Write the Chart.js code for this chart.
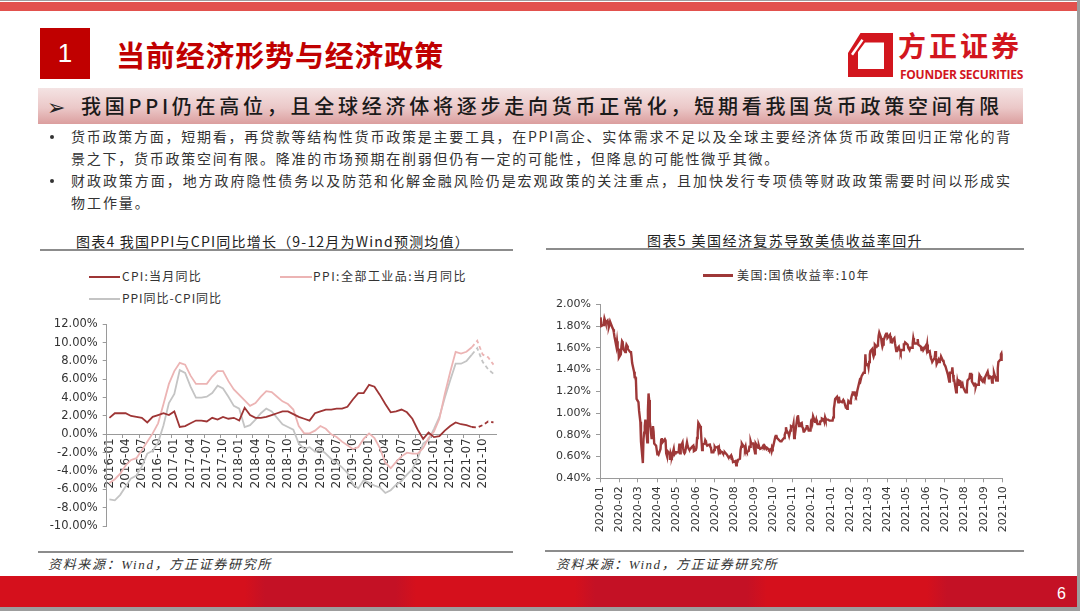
<!DOCTYPE html>
<html><head><meta charset="utf-8">
<script src="https://cdn.jsdelivr.net/npm/chart.js@4.4.0/dist/chart.umd.min.js"></script>
<style>
html,body{margin:0;padding:0;}
body{width:1080px;height:611px;background:#9d9d9d;position:relative;overflow:hidden;font-family:"Noto Sans CJK SC","Noto Sans",sans-serif;}
#slide{position:absolute;left:0;top:1px;width:1077px;height:606px;background:#fff;}
#topband{position:absolute;left:0;top:2px;width:1077px;height:9px;background:#E2514D;}
#numbox{position:absolute;left:40px;top:28px;width:50px;height:51px;background:#C00000;color:#fff;font:26px "Liberation Sans",Arial,sans-serif;line-height:51px;text-align:center;}
.t{position:absolute;white-space:nowrap;line-height:1;}
#mainTitle{left:116px;top:40px;font-size:29px;font-weight:700;color:#C00000;}
#logoCn{left:898px;top:31px;font-size:28px;font-weight:700;color:#D2161E;}
#logoEn{left:900px;top:65.5px;font:700 12px "Open Sans",sans-serif;color:#D2161E;}
#logo{position:absolute;left:848px;top:33px;}
#band{position:absolute;left:38px;top:88px;width:985px;height:36px;background:linear-gradient(180deg,#F4E3E3 0%,#EBC8C8 55%,#DB9E9E 100%);}
#arrow{left:47px;top:95px;font:22px "DejaVu Sans",sans-serif;color:#222;}
#sub{left:81px;top:95.5px;font-size:20px;font-weight:500;color:#1a1a1a;}
.dot{position:absolute;width:4px;height:4px;border-radius:2px;background:#333;}
.bl{font-size:14px;color:#333;left:71px;}
.ct{font-size:14px;color:#222;}
.hl{position:absolute;height:2px;background:#8c8c8c;}
.lg{font-size:12px;color:#333;}
.ls{position:absolute;}
.src{font:italic 13px "Liberation Serif","Noto Sans CJK SC",serif;color:#333;}
#bottom{position:absolute;left:0;top:576px;width:1077px;height:31px;background:linear-gradient(90deg,#D5101C 0px,#D5101C 245px,#C41125 265px,#C41125 396px,#D5101C 416px,#D5101C 575px,#C41125 595px,#C41125 747px,#D5101C 767px,#D5101C 927px,#C41125 947px,#C41125 1077px);}
#pnum{left:1057px;top:584.5px;font:16px "Liberation Sans",Arial,sans-serif;color:#fff;}
canvas{position:absolute;}
</style></head>
<body>
<div id="slide"></div>
<div id="topband"></div>
<div id="numbox">1</div>
<div class="t" id="mainTitle">当前经济形势与经济政策</div>
<svg id="logo" width="46" height="45" viewBox="0 0 46 45">
  <path fill="#D2161E" fill-rule="evenodd" d="M12.5,0 H45 V44 H0 V20 Z M17,9.5 H36 V36 H10 V19 Z"/>
  <path fill="#fff" d="M3,21 L13.5,6 L15.5,7.5 L5,22.5 Z"/>
</svg>
<div class="t" id="logoCn">方正证券</div>
<div class="t" id="logoEn">FOUNDER SECURITIES</div>
<div id="band"></div>
<div class="t" id="arrow">➢</div>
<div class="t" id="sub">我国PPI仍在高位，且全球经济体将逐步走向货币正常化，短期看我国货币政策空间有限</div>

<div class="dot" style="left:50px;top:134.5px"></div>
<div class="dot" style="left:50px;top:179px"></div>
<div class="t bl" id="b1" style="top:128.8px">货币政策方面，短期看，再贷款等结构性货币政策是主要工具，在PPI高企、实体需求不足以及全球主要经济体货币政策回归正常化的背</div>
<div class="t bl" id="b2" style="top:150.8px">景之下，货币政策空间有限。降准的市场预期在削弱但仍有一定的可能性，但降息的可能性微乎其微。</div>
<div class="t bl" id="b3" style="top:173.3px">财政政策方面，地方政府隐性债务以及防范和化解金融风险仍是宏观政策的关注重点，且加快发行专项债等财政政策需要时间以形成实</div>
<div class="t bl" id="b4" style="top:194.8px">物工作量。</div>

<div class="t ct" id="t1" style="left:76px;top:233.8px">图表4 我国PPI与CPI同比增长（9-12月为Wind预测均值）</div>
<div class="t ct" id="t2" style="left:647px;top:232.8px">图表5 美国经济复苏导致美债收益率回升</div>
<div class="hl" style="left:40px;top:249px;width:473px"></div>
<div class="hl" style="left:546px;top:248px;width:478px"></div>

<div class="ls" style="left:89px;top:276px;width:31px;height:1.6px;background:#9E3535"></div>
<div class="t lg" id="lg1" style="left:122px;top:269.9px">CPI:当月同比</div>
<div class="ls" style="left:280px;top:276px;width:32px;height:1.6px;background:#ECB4B4"></div>
<div class="t lg" id="lg2" style="left:313px;top:269.9px">PPI:全部工业品:当月同比</div>
<div class="ls" style="left:89px;top:298px;width:31px;height:1.6px;background:#C4C4C4"></div>
<div class="t lg" id="lg3" style="left:122px;top:291.9px">PPI同比-CPI同比</div>
<div class="ls" style="left:703px;top:274.3px;width:30px;height:3px;background:#9E3838"></div>
<div class="t lg" id="lg4" style="left:737px;top:269.1px">美国:国债收益率:10年</div>

<canvas id="c1" width="470" height="230" style="left:40px;top:310px"></canvas>
<canvas id="c2" width="480" height="250" style="left:540px;top:290px"></canvas>

<div class="hl" style="left:38px;top:550.5px;width:475px"></div>
<div class="hl" style="left:545px;top:549.5px;width:479px"></div>
<div class="t src" id="s1" style="left:48px;top:554.3px">资料来源：Wind，方正证券研究所</div>
<div class="t src" id="s2" style="left:556px;top:554.3px">资料来源：Wind，方正证券研究所</div>

<div id="bottom"></div>
<div class="t" id="pnum">6</div>

<script>
// ---------- Left chart data (monthly, %) ----------
const months = [
 '2016-01','2016-02','2016-03','2016-04','2016-05','2016-06','2016-07','2016-08','2016-09','2016-10','2016-11','2016-12',
 '2017-01','2017-02','2017-03','2017-04','2017-05','2017-06','2017-07','2017-08','2017-09','2017-10','2017-11','2017-12',
 '2018-01','2018-02','2018-03','2018-04','2018-05','2018-06','2018-07','2018-08','2018-09','2018-10','2018-11','2018-12',
 '2019-01','2019-02','2019-03','2019-04','2019-05','2019-06','2019-07','2019-08','2019-09','2019-10','2019-11','2019-12',
 '2020-01','2020-02','2020-03','2020-04','2020-05','2020-06','2020-07','2020-08','2020-09','2020-10','2020-11','2020-12',
 '2021-01','2021-02','2021-03','2021-04','2021-05','2021-06','2021-07','2021-08','2021-09','2021-10','2021-11','2021-12'];
const cpi = [
 1.8,2.3,2.3,2.3,2.0,1.9,1.8,1.3,1.9,2.1,2.3,2.1,
 2.5,0.8,0.9,1.2,1.5,1.5,1.4,1.8,1.6,1.9,1.7,1.8,
 1.5,2.9,2.1,1.8,1.8,1.9,2.1,2.3,2.5,2.5,2.2,1.9,
 1.7,1.5,2.3,2.5,2.7,2.7,2.8,2.8,3.0,3.8,4.5,4.5,
 5.4,5.2,4.3,3.3,2.4,2.5,2.7,2.4,1.7,0.5,-0.5,0.2,
 -0.3,-0.2,0.4,0.9,1.3,1.1,1.0,0.8,0.75,1.0,1.4,1.3];
const ppi = [
 -5.3,-4.9,-4.3,-3.4,-2.8,-2.6,-1.7,-0.8,0.1,1.2,3.3,5.5,
 6.9,7.8,7.6,6.4,5.5,5.5,5.5,6.3,6.9,6.9,5.8,4.9,
 4.3,3.7,3.1,3.4,4.1,4.7,4.6,4.1,3.6,3.3,2.7,0.9,
 0.1,0.1,0.4,0.9,0.6,0.0,-0.3,-0.8,-1.2,-1.6,-1.4,-0.5,
 0.1,-0.4,-1.5,-3.1,-3.7,-3.0,-2.4,-2.0,-2.1,-2.1,-1.5,-0.4,
 0.3,1.7,4.4,6.8,9.0,8.8,9.0,9.5,10.2,8.7,8.4,7.6];
const ppiMinusCpi = [
 -7.1,-7.2,-6.6,-5.7,-4.8,-4.5,-3.5,-2.1,-1.8,-0.9,1.0,3.4,
 4.4,7.0,6.7,5.2,4.0,4.0,4.1,4.5,5.3,5.0,4.1,3.1,
 2.8,0.8,1.0,1.6,2.3,2.8,2.5,1.8,1.1,0.8,0.5,-1.0,
 -1.6,-1.4,-1.9,-1.6,-2.1,-2.7,-3.1,-3.6,-4.2,-5.4,-5.9,-5.0,
 -5.3,-5.6,-5.8,-6.4,-6.1,-5.5,-5.1,-4.4,-3.8,-2.6,-1.0,-0.6,
 0.6,1.9,4.0,5.9,7.7,7.7,8.0,8.7,9.4,7.9,7.1,6.6];
const forecastFrom = 67; // segments after 2021-08 are Wind forecasts (dashed)
const leftYTicks = {min:-10, max:12, step:2};

// ---------- Right chart data (US 10Y Treasury yield, daily, %) ----------
const usMonths = ['2020-01','2020-02','2020-03','2020-04','2020-05','2020-06','2020-07','2020-08','2020-09','2020-10','2020-11','2020-12',
 '2021-01','2021-02','2021-03','2021-04','2021-05','2021-06','2021-07','2021-08','2021-09','2021-10'];
const usDays = [
 [2,3,6,7,8,9,10,13,14,15,16,17,21,22,23,24,27,28,29,30,31],
 [3,4,5,6,7,10,11,12,13,14,18,19,20,21,24,25,26,27,28],
 [2,3,4,5,6,9,10,11,12,13,16,17,18,19,20,23,24,25,26,27,30,31],
 [1,2,3,6,7,8,9,13,14,15,16,17,20,21,22,23,24,27,28,29,30],
 [1,4,5,6,7,8,11,12,13,14,15,18,19,20,21,22,26,27,28,29],
 [1,2,3,4,5,8,9,10,11,12,15,16,17,18,19,22,23,24,25,26,29,30],
 [1,2,6,7,8,9,10,13,14,15,16,17,20,21,22,23,24,27,28,29,30,31],
 [3,4,5,6,7,10,11,12,13,14,17,18,19,20,21,24,25,26,27,28,31],
 [1,2,3,4,8,9,10,11,14,15,16,17,18,21,22,23,24,25,28,29,30],
 [1,2,5,6,7,8,9,13,14,15,16,19,20,21,22,23,26,27,28,29,30],
 [2,3,4,5,6,9,10,12,13,16,17,18,19,20,23,24,25,27,30],
 [1,2,3,4,7,8,9,10,11,14,15,16,17,18,21,22,23,24,28,29,30,31],
 [4,5,6,7,8,11,12,13,14,15,19,20,21,22,25,26,27,28,29],
 [1,2,3,4,5,8,9,10,11,12,16,17,18,19,22,23,24,25,26],
 [1,2,3,4,5,8,9,10,11,12,15,16,17,18,19,22,23,24,25,26,29,30,31],
 [1,5,6,7,8,9,12,13,14,15,16,19,20,21,22,23,26,27,28,29,30],
 [3,4,5,6,7,10,11,12,13,14,17,18,19,20,21,24,25,26,27,28],
 [1,2,3,4,7,8,9,10,11,14,15,16,17,18,21,22,23,24,25,28,29,30],
 [1,2,6,7,8,9,12,13,14,15,16,19,20,21,22,23,26,27,28,29,30],
 [2,3,4,5,6,9,10,11,12,13,16,17,18,19,20,23,24,25,26,27,30,31],
 [1,2,3,7,8,9,10,13,14,15,16,17,20,21,22,23,24,27,28,29,30],
 [1]];
const usYield = [
 [1.88,1.80,1.81,1.83,1.87,1.85,1.83,1.85,1.82,1.79,1.81,1.84,1.78,1.77,1.74,1.70,1.61,1.66,1.60,1.59,1.51],
 [1.54,1.61,1.66,1.65,1.59,1.56,1.60,1.63,1.62,1.59,1.56,1.57,1.52,1.46,1.38,1.33,1.33,1.30,1.13],
 [1.10,1.02,1.02,0.92,0.74,0.54,0.76,0.82,0.88,0.94,0.73,1.02,1.18,1.12,0.92,0.76,0.84,0.88,0.83,0.72,0.70,0.70],
 [0.62,0.63,0.62,0.67,0.75,0.77,0.73,0.76,0.75,0.63,0.61,0.65,0.63,0.57,0.63,0.61,0.60,0.67,0.62,0.63,0.64],
 [0.64,0.64,0.66,0.72,0.63,0.69,0.73,0.67,0.64,0.63,0.64,0.73,0.70,0.68,0.67,0.66,0.69,0.69,0.70,0.65],
 [0.66,0.68,0.77,0.82,0.91,0.88,0.84,0.75,0.66,0.71,0.72,0.75,0.74,0.71,0.70,0.71,0.72,0.69,0.68,0.64,0.64,0.66],
 [0.69,0.68,0.69,0.65,0.67,0.62,0.65,0.64,0.63,0.63,0.63,0.64,0.62,0.61,0.60,0.59,0.59,0.61,0.58,0.58,0.55,0.55],
 [0.56,0.52,0.55,0.55,0.57,0.58,0.66,0.69,0.72,0.71,0.69,0.67,0.69,0.65,0.64,0.65,0.69,0.69,0.74,0.72,0.72],
 [0.68,0.66,0.63,0.72,0.68,0.70,0.68,0.67,0.68,0.68,0.70,0.69,0.70,0.67,0.68,0.68,0.67,0.66,0.67,0.65,0.69],
 [0.68,0.70,0.78,0.79,0.79,0.77,0.77,0.74,0.74,0.74,0.75,0.77,0.80,0.82,0.87,0.84,0.81,0.79,0.79,0.84,0.88],
 [0.87,0.90,0.77,0.78,0.83,0.96,0.98,0.88,0.90,0.91,0.87,0.86,0.83,0.83,0.86,0.88,0.88,0.84,0.84],
 [0.93,0.95,0.92,0.97,0.92,0.92,0.94,0.91,0.90,0.90,0.92,0.92,0.93,0.95,0.94,0.92,0.96,0.94,0.94,0.94,0.93,0.93],
 [0.93,0.96,1.04,1.08,1.13,1.15,1.15,1.10,1.15,1.11,1.10,1.10,1.12,1.11,1.05,1.05,1.04,1.07,1.11],
 [1.09,1.12,1.15,1.17,1.19,1.19,1.16,1.15,1.16,1.20,1.30,1.29,1.29,1.34,1.37,1.37,1.38,1.54,1.44],
 [1.45,1.42,1.47,1.54,1.57,1.59,1.54,1.52,1.54,1.63,1.61,1.62,1.64,1.71,1.74,1.69,1.64,1.61,1.63,1.67,1.72,1.73,1.74],
 [1.69,1.72,1.67,1.68,1.64,1.67,1.69,1.64,1.64,1.57,1.59,1.61,1.58,1.58,1.56,1.58,1.58,1.63,1.63,1.65,1.65],
 [1.63,1.60,1.59,1.58,1.60,1.60,1.64,1.69,1.66,1.64,1.64,1.64,1.68,1.63,1.63,1.61,1.58,1.58,1.61,1.58],
 [1.62,1.59,1.63,1.56,1.57,1.53,1.50,1.49,1.47,1.50,1.51,1.57,1.51,1.45,1.49,1.47,1.48,1.49,1.52,1.48,1.48,1.45],
 [1.45,1.43,1.35,1.32,1.29,1.37,1.37,1.42,1.35,1.30,1.30,1.19,1.22,1.29,1.26,1.30,1.29,1.24,1.26,1.27,1.24],
 [1.20,1.19,1.19,1.23,1.30,1.32,1.36,1.36,1.36,1.29,1.26,1.27,1.27,1.24,1.26,1.26,1.29,1.35,1.34,1.31,1.29,1.31],
 [1.31,1.29,1.33,1.38,1.35,1.31,1.34,1.33,1.28,1.31,1.34,1.37,1.31,1.32,1.30,1.41,1.47,1.49,1.54,1.55,1.52],
 [1.48]];
const rightYTicks = {min:0.4, max:2.0, step:0.2};

// ---------- helpers ----------
const DAY0 = Date.UTC(2020,0,1);
function dayNum(ym, d){ const [y,m]=ym.split('-').map(Number); return (Date.UTC(y,m-1,d)-DAY0)/864e5; }
const usPoints = [];
usMonths.forEach((ym,mi)=>{ usDays[mi].forEach((d,di)=>{ usPoints.push({x:dayNum(ym,d), y:usYield[mi][di]}); }); });
const monthTickVals = usMonths.map(ym=>dayNum(ym,1));
const monthTickLabel = {}; usMonths.forEach((ym,i)=>{ monthTickLabel[monthTickVals[i]] = ym; });

const AX = '#9a9a9a';
const tickFont = s => ({family:'"DejaVu Sans", sans-serif', size:s});
const dashSeg = {borderDash: ctx => ctx.p0DataIndex >= forecastFrom ? [4,3] : undefined};

new Chart(document.getElementById('c1'), {
  type:'line',
  data:{labels:months, datasets:[
    {label:'CPI:当月同比', data:cpi, borderColor:'#9E3535', borderWidth:1.8, pointRadius:0, tension:0, segment:dashSeg},
    {label:'PPI:全部工业品:当月同比', data:ppi, borderColor:'#ECB4B4', borderWidth:1.8, pointRadius:0, tension:0, segment:dashSeg},
    {label:'PPI同比-CPI同比', data:ppiMinusCpi, borderColor:'#C4C4C4', borderWidth:1.8, pointRadius:0, tension:0, segment:dashSeg}
  ]},
  options:{
    responsive:false, animation:false,
    layout:{padding:{top:14.3,right:13.8,bottom:14,left:0}},
    plugins:{legend:{display:false}, tooltip:{enabled:false}},
    scales:{
      x:{type:'category', offset:true, position:{y:0},
         grid:{offset:true, drawOnChartArea:false, tickLength:3, color: c => (c.index%3===0 ? AX : 'rgba(0,0,0,0)')},
         border:{color:AX},
         ticks:{autoSkip:false, minRotation:90, maxRotation:90, padding:1, color:'#333', font:tickFont(12),
                callback:function(v,i){ return i%3===0 ? this.getLabelForValue(v) : ''; }}},
      y:{min:leftYTicks.min, max:leftYTicks.max,
         afterFit: s => { s.width = 66.7; },
         grid:{drawOnChartArea:false, tickLength:4, color:AX}, border:{color:AX},
         ticks:{stepSize:leftYTicks.step, padding:5, color:'#333', font:tickFont(11.5), callback:v => v.toFixed(2)+'%'}}
    }
  }
});

new Chart(document.getElementById('c2'), {
  type:'line',
  data:{datasets:[{label:'美国:国债收益率:10年', data:usPoints, borderColor:'#9E3838', borderWidth:2.4, pointRadius:0, tension:0}]},
  options:{
    responsive:false, animation:false,
    layout:{padding:{top:14.3,right:14,bottom:0,left:0}},
    plugins:{legend:{display:false}, tooltip:{enabled:false}},
    scales:{
      x:{type:'linear', min:monthTickVals[0], max:monthTickVals[monthTickVals.length-1],
         afterBuildTicks: ax => { ax.ticks = monthTickVals.map(v => ({value:v})); },
         afterFit: s => { s.height = 61.7; },
         grid:{drawOnChartArea:false, tickLength:4, color:AX}, border:{color:AX},
         ticks:{autoSkip:false, minRotation:90, maxRotation:90, padding:4, color:'#333', font:tickFont(11),
                callback: v => monthTickLabel[v] || ''}},
      y:{min:rightYTicks.min, max:rightYTicks.max,
         afterFit: s => { s.width = 60; },
         grid:{drawOnChartArea:false, tickLength:4, color:AX}, border:{color:AX},
         ticks:{stepSize:rightYTicks.step, padding:5, color:'#333', font:tickFont(11), callback:v => v.toFixed(2)+'%'}}
    }
  }
});

// ---------- fit text widths to reference ----------
function fit(id, target){
  const el = document.getElementById(id);
  el.style.letterSpacing = '0px';
  const w = el.getBoundingClientRect().width;
  const n = [...el.textContent].length;
  const ls = (target - w) / n;
  el.style.letterSpacing = ls + 'px';
  return ls;
}
function setLS(id, ls){ document.getElementById(id).style.letterSpacing = ls + 'px'; }
function doFit(){
  fit('mainTitle', 328);
  fit('logoCn', 124);
  fit('logoEn', 123);
  fit('sub', 922);
  setLS('b2', fit('b1', 941));
  setLS('b4', fit('b3', 941));
  fit('t1', 394);
  fit('t2', 276);
  fit('lg1', 80); fit('lg2', 154); fit('lg3', 100); fit('lg4', 133);
  fit('s1', 224); fit('s2', 222);
}
doFit();
if (document.fonts && document.fonts.ready) document.fonts.ready.then(doFit);
</script>
</body></html>
